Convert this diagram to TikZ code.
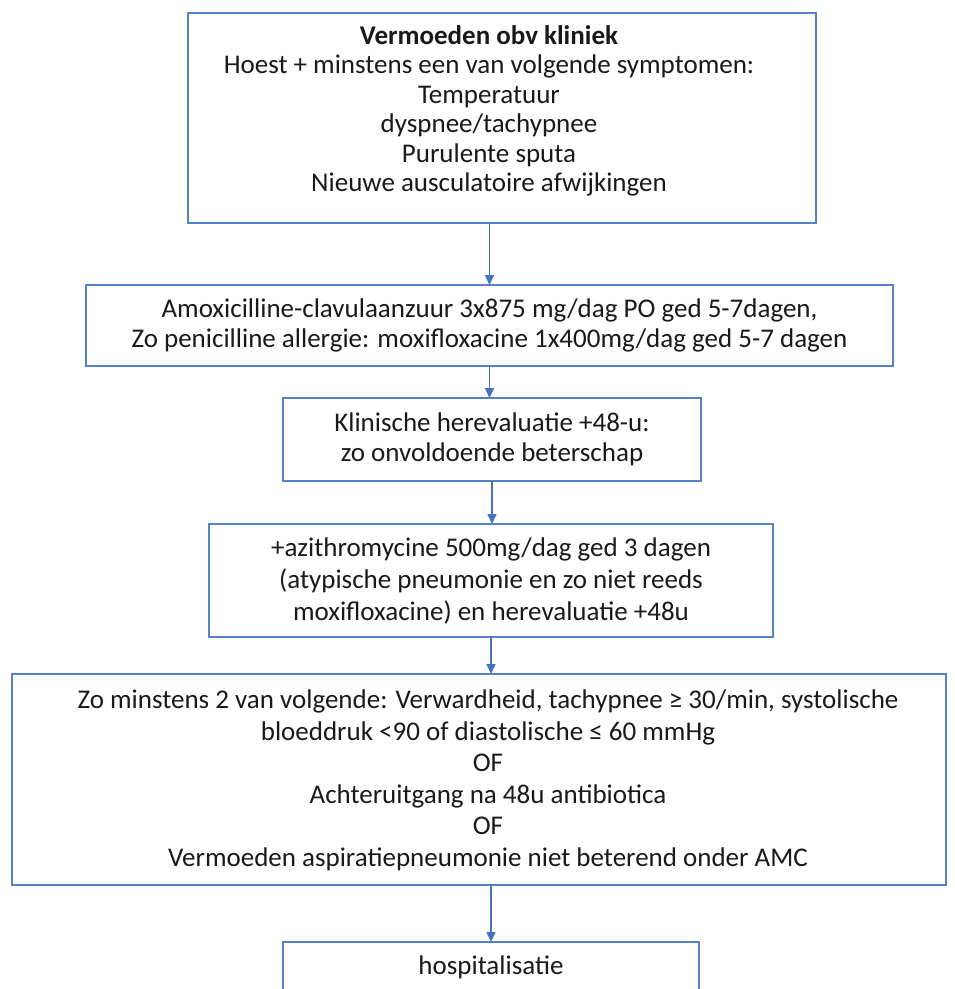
\documentclass[tikz,border=0pt]{standalone}
\usepackage{fontspec}
\setmainfont{Carlito}
\usetikzlibrary{arrows.meta,positioning}
\definecolor{boxblue}{RGB}{84,130,202}
\definecolor{arrowblue}{RGB}{68,114,196}
\definecolor{txtgray}{RGB}{25,25,25}
\tikzset{
	box/.style={rectangle,draw=boxblue,line width=2pt,outer sep=0pt,text=txtgray,align=center,inner sep=0pt,font=\fontsize{27}{30.5}\selectfont},
	boxtext/.style={text=txtgray,align=center,inner sep=0pt,font=\fontsize{27}{30.5}\selectfont},
	link/.style={-{Triangle[length=10pt,width=9pt]},draw=arrowblue,fill=arrowblue,line width=1.6pt}
}

\begin{document}
\begin{tikzpicture}[node distance=40pt]
	\useasboundingbox (0,0) rectangle (955pt,-989pt);
	\clip (0,0) rectangle (955pt,-989pt);
	\node[box,minimum width=628pt,minimum height=210.5pt] (clinic) at (502pt,-117.75pt) {};
	\node[boxtext,font=\fontsize{27}{29.5}\selectfont] (clinictext) at (489pt,-111pt) {\textbf{Vermoeden obv kliniek}\\Hoest + minstens een van volgende symptomen:\\Temperatuur\\dyspnee/tachypnee\\Purulente sputa\\Nieuwe ausculatoire afwijkingen};
	\node[box,below=62pt of clinic,xshift=-12.5pt,minimum width=807pt,minimum height=81pt] (amoxi) {Amoxicilline-clavulaanzuur 3x875 mg/dag PO ged 5-7dagen,\\Zo penicilline allergie: moxifloxacine 1x400mg/dag ged 5-7 dagen};
	\node[box,below=32pt of amoxi,xshift=2.5pt,minimum width=418pt,minimum height=83pt] (reeval) {Klinische herevaluatie +48-u:\\zo onvoldoende beterschap};
	\node[box,below=43pt of reeval,xshift=-1pt,minimum width=564pt,minimum height=113pt,font=\fontsize{27}{32}\selectfont] (azithro) {+azithromycine 500mg/dag ged 3 dagen\\(atypische pneumonie en zo niet reeds\\moxifloxacine) en herevaluatie +48u};
	\node[box,below=37pt of azithro,xshift=-12pt,minimum width=934pt,minimum height=211pt] (criteria) {};
	\node[boxtext,font=\fontsize{27}{31.5}\selectfont] (criteriatext) at ([xshift=9pt,yshift=-1pt]criteria.center) {Zo minstens 2 van volgende: Verwardheid, tachypnee ≥ 30/min, systolische\\bloeddruk <90 of diastolische ≤ 60 mmHg\\OF\\Achteruitgang na 48u antibiotica\\OF\\Vermoeden aspiratiepneumonie niet beterend onder AMC};
	\node[box,below=57pt of criteria,xshift=12pt,minimum width=416pt,minimum height=50pt] (hosp) {hospitalisatie};

	\draw[link] (clinic.south -| amoxi.north) -- (amoxi.north);
	\draw[link] (amoxi.south) -- (amoxi.south |- reeval.north);
	\draw[link] (reeval.south) -- (reeval.south |- azithro.north);
	\draw[link] (azithro.south) -- (azithro.south |- criteria.north);
	\draw[link] (hosp.north |- criteria.south) -- (hosp.north);
\end{tikzpicture}
\end{document}
